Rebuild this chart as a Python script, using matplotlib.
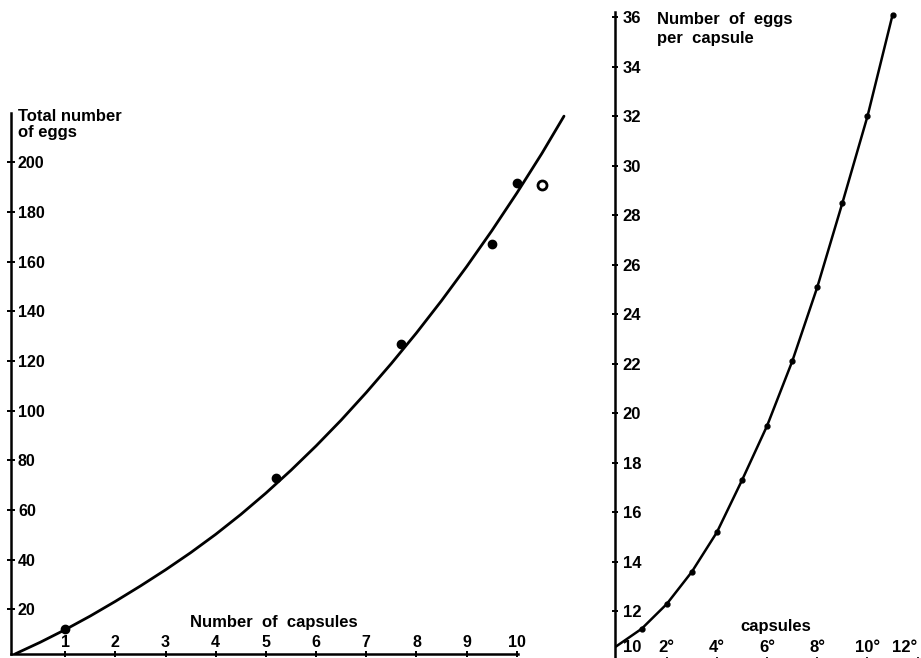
import matplotlib
matplotlib.use("Agg")
import matplotlib.pyplot as plt

plt.rcParams['font.family'] = ['Liberation Sans', 'DejaVu Sans']
plt.rcParams['font.weight'] = 'bold'

# left panel: total eggs against number of capsules
caps_total = [1, 5.2, 7.7, 9.5, 10.0]
eggs_total = [12, 73, 127, 167, 191.5]
open_caps = [10.5]
open_eggs = [191]
# fitted curve, every half capsule
curve_x = [0, 0.5, 1, 1.5, 2, 2.5, 3, 3.5, 4, 4.5, 5, 5.5, 6, 6.5, 7, 7.5,
           8, 8.5, 9, 9.5, 10, 10.5, 10.94]
curve_y = [2, 6.7, 11.8, 17.3, 23.2, 29.4, 35.9, 42.8, 50.2, 58.2, 66.8, 76.0,
           85.8, 96.2, 107.3, 119.0, 131.3, 144.3, 158.0, 172.4, 187.6, 203.6, 218.6]
left_xticks = [1, 2, 3, 4, 5, 6, 7, 8, 9, 10]
left_yticks = [20, 40, 60, 80, 100, 120, 140, 160, 180, 200]

# right panel: eggs per capsule against capsule order
capsule_no = [1, 2, 3, 4, 5, 6, 7, 8, 9, 10, 11]
eggs_per_capsule = [11.3, 12.3, 13.6, 15.2, 17.3, 19.5, 22.1, 25.1, 28.5, 32.0, 36.1]
start_x = 0
start_y = 10.6
right_xticks = [2, 4, 6, 8, 10, 12]
right_xlabels = ['2°', '4°', '6°', '8°', '10°', '12°']
right_yticks = [12, 14, 16, 18, 20, 22, 24, 26, 28, 30, 32, 34, 36]

W, H = 921, 658
fig = plt.figure(figsize=(W / 100, H / 100), dpi=100)

# ---- left ----
ax1 = fig.add_axes([11 / W, 4 / H, 556 / W, 546.3 / H])
ax1.set_xlim(-0.08, 11.0)
ax1.set_ylim(2, 222)
ax1.plot(curve_x, curve_y, color='black', lw=2.0, solid_capstyle='round',
         solid_joinstyle='round')
ax1.plot(caps_total, eggs_total, 'o', color='black', ms=6)
ax1.plot(open_caps, open_eggs, 'o', mfc='white', mec='black', mew=2, ms=6.5)

for s in ['top', 'right']:
    ax1.spines[s].set_visible(False)
ax1.spines['left'].set_linewidth(1.8)
ax1.spines['bottom'].set_linewidth(1.8)
ax1.spines['left'].set_bounds(2, 220)
ax1.spines['bottom'].set_bounds(-0.08, 10.02)

ax1.set_yticks(left_yticks)
ax1.set_xticks(left_xticks)
ax1.tick_params(axis='y', direction='inout', length=6, width=1.4, pad=-8, labelsize=11.5)
ax1.tick_params(axis='x', direction='inout', length=4, width=1.4, pad=-10.6, labelsize=11.5)
for lbl in ax1.get_yticklabels():
    lbl.set_ha('left')
for lbl in ax1.get_xticklabels():
    lbl.set_va('center')

fig.text(18 / W, 1 - 109 / H, 'Total number\nof eggs', ha='left', va='top',
         fontsize=12, fontweight='bold', linespacing=1.1)
fig.text(190 / W, 1 - 622 / H, 'Number  of  capsules', ha='left', va='center',
         fontsize=12, fontweight='bold')

# ---- right ----
ax2 = fig.add_axes([615 / W, -3 / H, 305.2 / W, 653.7 / H])
ax2.set_xlim(-0.06, 12.1)
ax2.set_ylim(10, 36.4)
ax2.plot([start_x] + capsule_no, [start_y] + eggs_per_capsule, color='black', lw=1.8,
         solid_joinstyle='round')
ax2.plot(capsule_no, eggs_per_capsule, 'o', color='black', ms=3.5)

for s in ['top', 'right', 'bottom']:
    ax2.spines[s].set_visible(False)
ax2.spines['left'].set_linewidth(1.8)
ax2.spines['left'].set_bounds(10, 36.2)

ax2.set_yticks(right_yticks)
ax2.set_xticks(right_xticks)
ax2.set_xticklabels(right_xlabels)
ax2.tick_params(axis='y', direction='inout', length=5, width=1.4, pad=-8, labelsize=12)
ax2.tick_params(axis='x', direction='in', length=3, width=1.2, pad=-10, labelsize=12)
for lbl in ax2.get_yticklabels():
    lbl.set_ha('left')
for lbl in ax2.get_xticklabels():
    lbl.set_va('center')
ax2.get_xticklabels()[-1].set_ha('right')
ax2.annotate('10', xy=(0, 0), xycoords='axes fraction', xytext=(5.5, 10),
             textcoords='offset points', ha='left', va='center', fontsize=12,
             fontweight='bold')

fig.text(657 / W, 1 - 12 / H, 'Number  of  eggs\nper  capsule', ha='left', va='top',
         fontsize=12, fontweight='bold', linespacing=1.3)
fig.text(740 / W, 1 - 627 / H, 'capsules', ha='left', va='center',
         fontsize=12, fontweight='bold')

fig.savefig('out.png', dpi=100)
